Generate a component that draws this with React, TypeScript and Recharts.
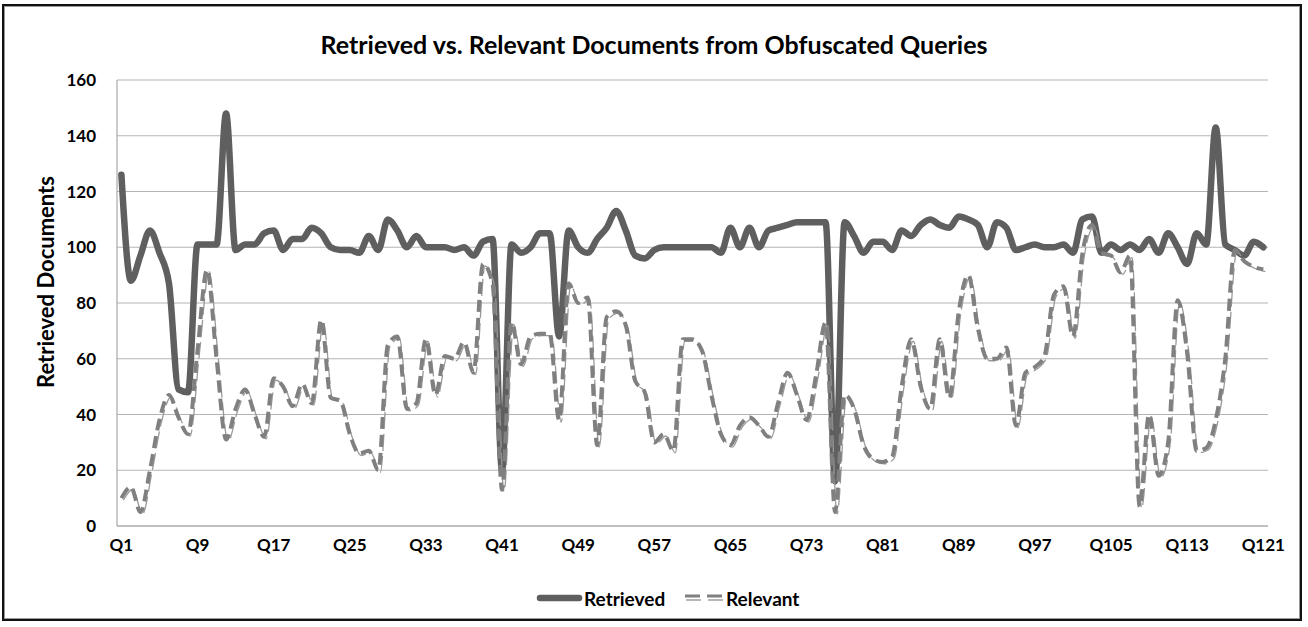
import { LineChart, Line, XAxis, YAxis, CartesianGrid } from "recharts";

// categories Q1..Q121
const queries: string[] = Array.from({ length: 121 }, (_, i) => `Q${i + 1}`);

const xTicks = ["Q1", "Q9", "Q17", "Q25", "Q33", "Q41", "Q49", "Q57", "Q65", "Q73", "Q81", "Q89", "Q97", "Q105", "Q113", "Q121"];
const yTicks = [0, 20, 40, 60, 80, 100, 120, 140, 160];

// values
const retrieved = [
  126, 88, 97, 106, 98, 87, 49, 48, 101, 101,
  101, 148, 99, 101, 101, 105, 106, 99, 103, 103,
  107, 105, 100, 99, 99, 98, 104, 99, 110, 106,
  100, 104, 100, 100, 100, 99, 100, 97, 102, 103,
  20, 101, 98, 100, 105, 105, 68, 106, 100, 98,
  103, 107, 113, 106, 97, 96, 99, 100, 100, 100,
  100, 100, 100, 98, 107, 100, 107, 100, 106, 107,
  108, 109, 109, 109, 109, 16, 109, 104, 98, 102,
  102, 99, 106, 104, 108, 110, 108, 107, 111, 110,
  108, 100, 109, 107, 99, 100, 101, 100, 100, 101,
  98, 110, 111, 98, 101, 99, 101, 99, 103, 98,
  105, 100, 94, 105, 101, 143, 101, 99, 97, 102,
  100,
];

const relevant = [
  10, 14, 5, 20, 38, 47, 39, 33, 63, 92,
  60, 31, 42, 49, 40, 32, 53, 50, 43, 51,
  44, 74, 46, 45, 33, 26, 27, 20, 65, 68,
  42, 44, 67, 47, 61, 60, 66, 55, 94, 87,
  13, 73, 58, 68, 69, 69, 38, 87, 80, 82,
  29, 75, 77, 72, 52, 48, 30, 33, 27, 67,
  67, 63, 47, 33, 29, 36, 39, 36, 32, 44,
  55, 47, 38, 54, 73, 5, 47, 42, 29, 24,
  23, 25, 50, 67, 50, 42, 67, 46, 77, 90,
  71, 60, 60, 64, 36, 55, 57, 61, 83, 86,
  68, 98, 108, 98, 97, 91, 97, 7, 40, 18,
  30, 81, 62, 27, 28, 38, 60, 99, 95, 93,
  92,
];

const chartData = queries.map((q, i) => ({ q, retrieved: retrieved[i], relevant: relevant[i] }));

const font = "Lato, 'Open Sans', sans-serif";

export default function App() {
  return (
    <div style={{ position: "fixed", left: 0, top: 0, width: 1308, height: 627, background: "#fff", fontFamily: font }}>
      <style>{`.rel-thin { transform: translate(2px, 2px); }`}</style>

      {/* outer frame */}
      <div style={{ position: "absolute", left: 2, top: 4, width: 1296, height: 613, border: "2px solid #111", boxShadow: "inset 0 0 0 1px #999" }} />

      {/* title */}
      <div style={{ position: "absolute", left: 0, top: 29, width: 1308, textAlign: "center", fontSize: 25, fontWeight: 700, color: "#000" }}>
        Retrieved vs. Relevant Documents from Obfuscated Queries
      </div>

      {/* y axis title */}
      <div style={{ position: "absolute", left: 45, top: 282, transform: "translate(-50%, -50%) rotate(-90deg)", whiteSpace: "nowrap", fontSize: 22, fontWeight: 700, color: "#000" }}>
        Retrieved Documents
      </div>

      <div style={{ position: "absolute", left: 0, top: 0 }}>
        <LineChart width={1308} height={627} data={chartData} margin={{ top: 80, right: 40, bottom: 71, left: 57 }}>
          <CartesianGrid vertical={false} stroke="#b4b4b4" strokeWidth={1.2} />
          <XAxis
            dataKey="q"
            ticks={xTicks}
            interval={0}
            height={30}
            padding={{ left: 4.4, right: 4.7 }}
            tickLine={false}
            tickSize={0}
            tickMargin={13}
            axisLine={{ stroke: "#a8a8a8", strokeWidth: 1.2 }}
            tick={{ fill: "#000", fontSize: 17, fontWeight: 700, fontFamily: font }}
          />
          <YAxis
            width={60}
            domain={[0, 160]}
            ticks={yTicks}
            interval={0}
            tickLine={false}
            tickSize={0}
            tickMargin={21}
            axisLine={{ stroke: "#a8a8a8", strokeWidth: 1.2 }}
            tick={{ fill: "#000", fontSize: 17, fontWeight: 700, fontFamily: font }}
          />
          <Line
            name="Retrieved"
            dataKey="retrieved"
            type="monotone"
            stroke="#5f5f5f"
            strokeWidth={6.5}
            strokeLinecap="round"
            strokeLinejoin="round"
            dot={false}
            activeDot={false}
            isAnimationActive={false}
          />
          <Line
            name="Relevant outline"
            dataKey="relevant"
            type="monotone"
            className="rel-thin"
            stroke="#9a9a9a"
            strokeWidth={1.3}
            strokeDasharray="17 5"
            dot={false}
            activeDot={false}
            legendType="none"
            isAnimationActive={false}
          />
          <Line
            name="Relevant"
            dataKey="relevant"
            type="monotone"
            stroke="#808080"
            strokeWidth={4}
            strokeDasharray="12 6"
            dot={false}
            activeDot={false}
            isAnimationActive={false}
          />
        </LineChart>
      </div>

      {/* legend */}
      <div style={{ position: "absolute", left: 534, top: 586, height: 24, display: "flex", alignItems: "center", fontSize: 19, fontWeight: 700, color: "#000" }}>
        <svg width={50} height={14}>
          <line x1={6} y1={7} x2={45} y2={7} stroke="#5f5f5f" strokeWidth={6.5} strokeLinecap="round" />
        </svg>
        <span style={{ width: 98 }}>Retrieved</span>
        <svg width={44} height={14}>
          <line x1={3} y1={5} x2={41} y2={5} stroke="#808080" strokeWidth={3} strokeDasharray="15 7" />
          <line x1={4} y1={9} x2={42} y2={9} stroke="#a0a0a0" strokeWidth={1.3} strokeDasharray="15 7" />
        </svg>
        <span>Relevant</span>
      </div>
    </div>
  );
}
